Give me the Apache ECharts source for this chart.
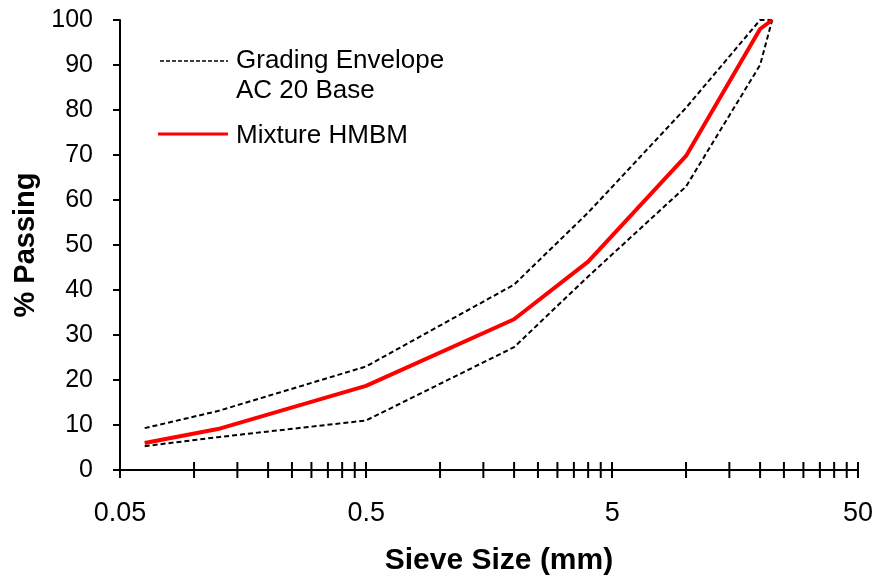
<!DOCTYPE html>
<html>
<head>
<meta charset="utf-8">
<script src="https://cdn.jsdelivr.net/npm/echarts@6/dist/echarts.min.js"></script>
<style>
  html, body { margin: 0; padding: 0; background: #fff; }
  #chart { width: 876px; height: 581px; }
</style>
</head>
<body>
<div id="chart"></div>
<script>
// sieve sizes (mm) and % passing
const sieveSizes = [0.063, 0.125, 0.5, 2, 4, 10, 20, 22.4]
const mixture = [6.0, 9.1, 18.7, 33.5, 46.3, 69.8, 98, 100]
const upperEnvelope = [9.3, 13.1, 23, 41.2, 57.2, 80.5, 100, 100]
const lowerEnvelope = [5.3, 7.3, 11, 27.3, 43, 63, 90, 100]

// x axis ticks (drawn across the axis line)
const majorTicks = [0.05, 0.5, 5, 50]
const minorTicks = [
  0.1, 0.15, 0.2, 0.25, 0.3, 0.35, 0.4, 0.45,
  1, 1.5, 2, 2.5, 3, 3.5, 4, 4.5,
  10, 15, 20, 25, 30, 35, 40, 45
]

const font = '"Liberation Sans", Arial, sans-serif'

function pairs(ys) {
  return sieveSizes.map((x, i) => [x, ys[i]])
}

const chart = echarts.init(document.getElementById('chart'))

chart.setOption({
  animation: false,
  grid: {
    left: 120,
    right: 18,
    top: 20,
    bottom: 110
  },
  xAxis: {
    type: 'log',
    logBase: 10,
    min: 0.05,
    max: 50,
    interval: 1,
    name: 'Sieve Size (mm)',
    nameLocation: 'middle',
    nameGap: 76,
    nameTextStyle: {
      fontFamily: font, fontSize: 30, fontWeight: 'bold', color: '#000',
      padding: [0, 0, 0, 20]
    },
    axisLine: { lineStyle: { color: '#000', width: 2 } },
    axisTick: { show: false },
    splitLine: { show: false },
    axisLabel: {
      margin: 30,
      fontFamily: font,
      fontSize: 27,
      color: '#000',
      formatter: v => String(+Number(v).toPrecision(2))
    }
  },
  yAxis: {
    type: 'value',
    min: 0,
    max: 100,
    interval: 10,
    name: '% Passing',
    nameLocation: 'middle',
    nameGap: 80,
    nameTextStyle: { fontFamily: font, fontSize: 29, fontWeight: 'bold', color: '#000' },
    axisLine: { show: true, lineStyle: { color: '#000', width: 2 } },
    axisTick: { show: true, length: 7, lineStyle: { color: '#000', width: 2 } },
    splitLine: { show: false },
    axisLabel: { margin: 27, fontFamily: font, fontSize: 25, color: '#000' }
  },
  graphic: [
    // legend
    { type: 'line', shape: { x1: 160, y1: 61, x2: 228, y2: 61 },
      style: { stroke: '#000', lineWidth: 1.5, lineDash: [4, 2] } },
    { type: 'text', left: 236, top: 46,
      style: { text: 'Grading Envelope\nAC 20 Base', fontFamily: font, fontSize: 26, lineHeight: 30, fill: '#000' } },
    { type: 'line', shape: { x1: 158, y1: 134, x2: 228, y2: 134 },
      style: { stroke: '#ff0000', lineWidth: 3 } },
    { type: 'text', left: 236, top: 123,
      style: { text: 'Mixture HMBM', fontFamily: font, fontSize: 26, fill: '#000' } }
  ],
  series: [
    {
      name: 'Grading Envelope',
      type: 'line',
      data: pairs(upperEnvelope),
      symbol: 'none',
      lineStyle: { color: '#000', width: 2, type: [5, 3] },
      z: 2
    },
    {
      name: 'Grading Envelope',
      type: 'line',
      data: pairs(lowerEnvelope),
      symbol: 'none',
      lineStyle: { color: '#000', width: 2, type: [5, 3] },
      z: 2
    },
    {
      name: 'Mixture HMBM',
      type: 'line',
      data: pairs(mixture),
      symbol: 'none',
      lineStyle: { color: '#ff0000', width: 4 },
      z: 3
    },
    {
      name: 'ticks',
      type: 'custom',
      silent: true,
      data: majorTicks.concat(minorTicks).map(v => [v, 0]),
      renderItem: function(params, api) {
        const p = api.coord([api.value(0), 0])
        return {
          type: 'line',
          shape: { x1: p[0], y1: p[1] - 8, x2: p[0], y2: p[1] + 8 },
          style: { stroke: '#000', lineWidth: 2 }
        }
      },
      z: 5
    }
  ]
})
</script>
</body>
</html>
